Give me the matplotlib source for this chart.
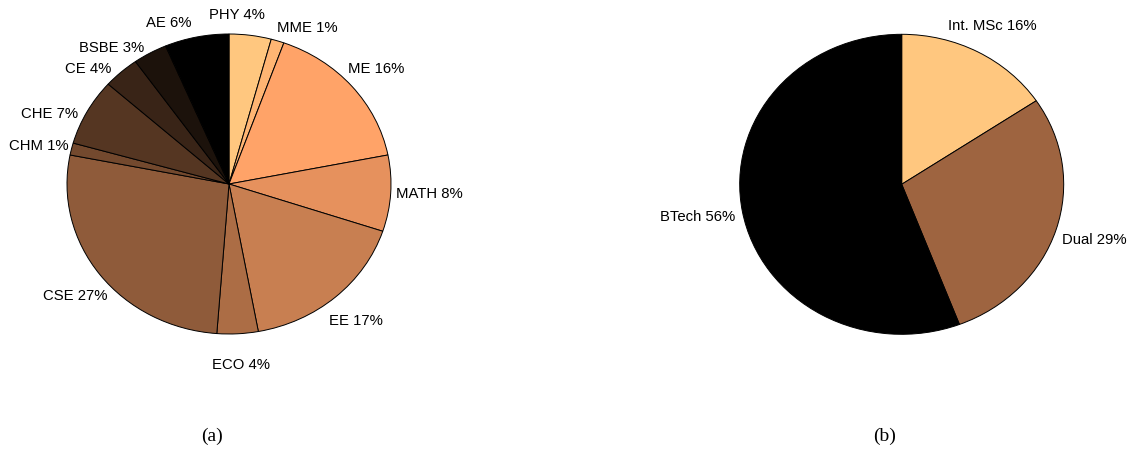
import numpy as np
import matplotlib
matplotlib.use("Agg")
import matplotlib.pyplot as plt

# ---- data (a): departments ----
dept_names = ["PHY", "MME", "ME", "MATH", "EE", "ECO", "CSE", "CHM", "CHE", "CE", "BSBE", "AE"]
dept_share = [4.2, 1.3, 16.4, 8.2, 17.0, 4.1, 26.9, 1.3, 7.2, 3.6, 3.4, 6.4]
dept_labels = ["PHY 4%", "MME 1%", "ME 16%", "MATH 8%", "EE 17%", "ECO 4%",
               "CSE 27%", "CHM 1%", "CHE 7%", "CE 4%", "BSBE 3%", "AE 6%"]

# ---- data (b): programmes ----
prog_names = ["Int. MSc", "Dual", "BTech"]
prog_share = [15.6, 28.6, 55.8]
prog_labels = ["Int. MSc 16%", "Dual 29%", "BTech 56%"]

# label placement (data units of the unit pie, as placed in the original figure)
dept_label_pos = [(0.049, 1.127), (0.481, 1.04), (0.907, 0.767), (1.238, -0.067),
                  (0.784, -0.911), (0.071, -1.207), (-0.952, -0.745), (-1.172, 0.255),
                  (-1.11, 0.465), (-0.870, 0.765), (-0.724, 0.905), (-0.375, 1.071)]
prog_label_pos = [(0.559, 1.055), (1.19, -0.371), (-1.257, -0.216)]

W, H = 1130, 449
fig = plt.figure(figsize=(W / 100, H / 100), dpi=100)

label_font = dict(family=["Liberation Sans", "DejaVu Sans"], size=10.7, color="black")
cap_font = dict(family=["Liberation Serif", "DejaVu Serif"], size=14, color="black")


def make_axes(cx, cy, rx=162, ry=150, lim=1.2):
    left = (cx - lim * rx) / W
    bottom = (H - (cy + lim * ry)) / H
    return fig.add_axes([left, bottom, 2 * lim * rx / W, 2 * lim * ry / H])


def draw_pie(ax, values, labels, positions):
    n = len(values)
    colors = plt.cm.copper(np.linspace(1, 0, n))
    wedges, texts = ax.pie(values, labels=labels, colors=colors, startangle=90,
                           counterclock=False, labeldistance=1.2,
                           wedgeprops=dict(edgecolor="black", linewidth=0.7),
                           textprops=dict(ha="center", va="center", **label_font))
    for t, p in zip(texts, positions):
        t.set_position(p)
    ax.set_aspect("auto")
    ax.set_xlim(-1.2, 1.2)
    ax.set_ylim(-1.2, 1.2)
    ax.axis("off")


ax1 = make_axes(229, 184)
draw_pie(ax1, dept_share, dept_labels, dept_label_pos)

ax2 = make_axes(901.7, 184.3)
draw_pie(ax2, prog_share, prog_labels, prog_label_pos)

fig.text(211.7 / W, 1 - 436 / H, "(a)", ha="center", va="center", **cap_font)
fig.text(884.5 / W, 1 - 436 / H, "(b)", ha="center", va="center", **cap_font)

fig.savefig("out.png", dpi=100, facecolor="white")
